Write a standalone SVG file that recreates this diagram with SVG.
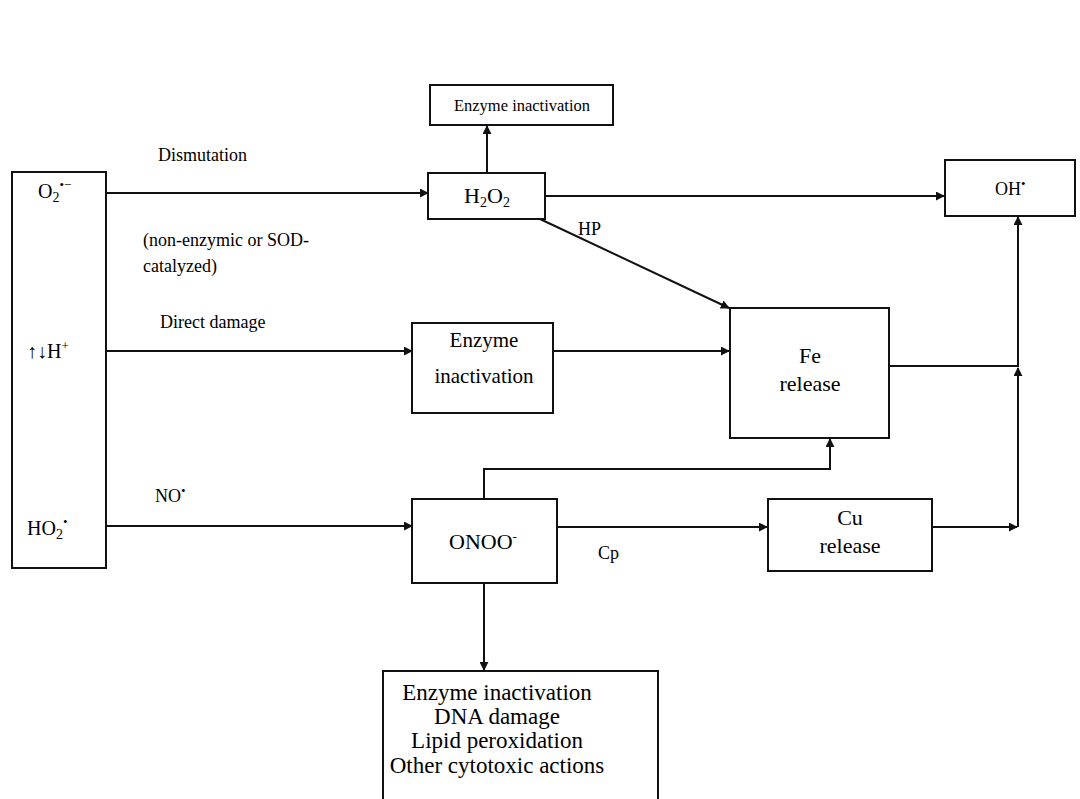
<svg xmlns="http://www.w3.org/2000/svg" width="1080" height="799" viewBox="0 0 1080 799">
<style>
rect.box{fill:#fff;stroke:#111;stroke-width:2}
text{font-family:"Liberation Serif","Times New Roman",serif;font-size:18px;fill:#000}
.c{text-anchor:middle}
.b{font-size:22px}
.e{font-size:23px}
.l{font-size:20px}
.conn path{fill:none;stroke:#111;stroke-width:2}
.sub{font-size:14px}
.sup{font-size:13px}
</style>
<defs>
<marker id="ah" viewBox="0 0 10 10" refX="9" refY="5" markerWidth="9" markerHeight="9" markerUnits="userSpaceOnUse" orient="auto">
<path d="M0,0 L10,5 L0,10 Z" fill="#111"/>
</marker>
</defs>
<rect width="1080" height="799" fill="#fff"/>
<g class="conn">
<path d="M487,173 V126" marker-end="url(#ah)"/>
<path d="M106,193 H428" marker-end="url(#ah)"/>
<path d="M545,196 H944" marker-end="url(#ah)"/>
<path d="M540,219 L729,308" marker-end="url(#ah)"/>
<path d="M106,351 H412" marker-end="url(#ah)"/>
<path d="M553,351 H729" marker-end="url(#ah)"/>
<path d="M106,526 H412" marker-end="url(#ah)"/>
<path d="M484,499 V469 H830 V439" marker-end="url(#ah)"/>
<path d="M557,527 H767" marker-end="url(#ah)"/>
<path d="M484,583 V670" marker-end="url(#ah)"/>
<path d="M889,366 H1018 V217" marker-end="url(#ah)"/>
<path d="M932,527 H1017" marker-end="url(#ah)"/>
<path d="M1018,527 V368" marker-end="url(#ah)"/>
</g>
<g id="labels">
<text x="158" y="161">Dismutation</text>
<text x="143" y="246">(non-enzymic or SOD-</text>
<text x="143" y="272">catalyzed)</text>
<text x="160" y="328">Direct damage</text>
<text x="578" y="235">HP</text>
<text x="155" y="502">NO<tspan class="sup" dy="-7">•</tspan></text>
<text x="598" y="559">Cp</text>
</g>
<g id="sources">
<rect class="box" x="12" y="172" width="94" height="396"/>
<text class="l" x="38" y="198">O<tspan class="sub" dy="4">2</tspan><tspan class="sup" dy="-13">•−</tspan></text>
<text class="l" x="27" y="358">↑↓H<tspan class="sup" dy="-8">+</tspan></text>
<text class="l" x="27" y="535">HO<tspan class="sub" dy="4">2</tspan><tspan class="sup" dy="-13">•</tspan></text>
</g>
<g id="enzyme-top">
<rect class="box" x="430" y="85" width="183" height="40"/>
<text class="c" style="font-size:16.5px" x="522" y="111">Enzyme inactivation</text>
</g>
<g id="h2o2">
<rect class="box" x="428" y="173" width="117" height="46"/>
<text class="c b" x="487" y="203">H<tspan class="sub" dy="4">2</tspan><tspan dy="-4">O</tspan><tspan class="sub" dy="4">2</tspan></text>
</g>
<g id="oh">
<rect class="box" x="945" y="160" width="130" height="56"/>
<text x="995" y="195">OH<tspan class="sup" dy="-7">•</tspan></text>
</g>
<g id="enzyme-mid">
<rect class="box" x="412" y="323" width="141" height="90"/>
<text class="c" style="font-size:21px" x="484" y="347">Enzyme</text>
<text class="c" style="font-size:21px" x="484" y="383">inactivation</text>
</g>
<g id="fe">
<rect class="box" x="730" y="308" width="159" height="130"/>
<text class="c b" x="810" y="363">Fe</text>
<text class="c b" x="810" y="391">release</text>
</g>
<g id="onoo">
<rect class="box" x="412" y="499" width="145" height="84"/>
<text class="c b" x="483" y="549">ONOO<tspan class="sup" dy="-8">-</tspan></text>
</g>
<g id="cu">
<rect class="box" x="768" y="499" width="164" height="72"/>
<text class="c b" x="850" y="525">Cu</text>
<text class="c b" x="850" y="553">release</text>
</g>
<g id="effects">
<rect class="box" x="383" y="671" width="275" height="150"/>
<text class="c e" x="497" y="700">Enzyme inactivation</text>
<text class="c e" x="497" y="724">DNA damage</text>
<text class="c e" x="497" y="748">Lipid peroxidation</text>
<text class="c e" x="497" y="773">Other cytotoxic actions</text>
</g>
</svg>
